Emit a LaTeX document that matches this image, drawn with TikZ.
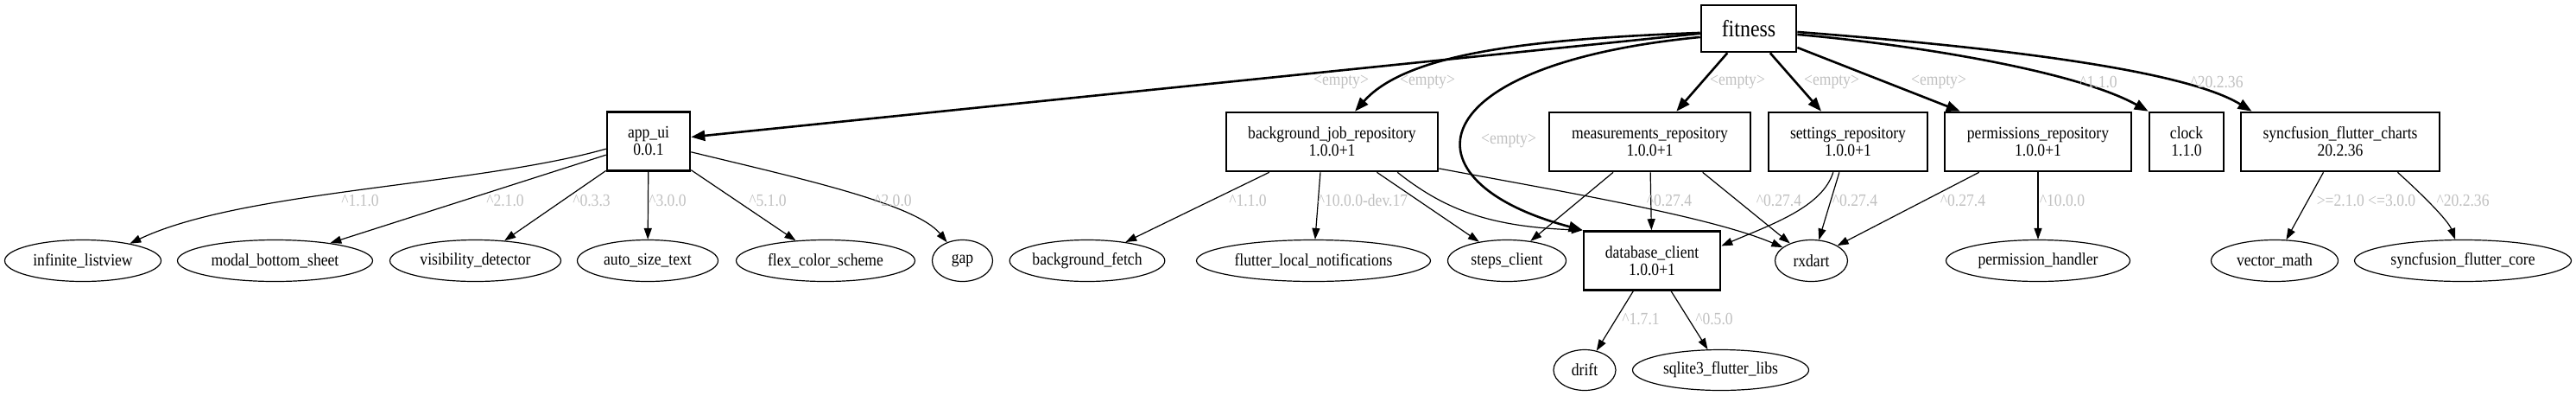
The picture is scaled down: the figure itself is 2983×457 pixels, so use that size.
\documentclass[tikz,border=0pt]{standalone}
\usepackage{fontspec}
\setmainfont{Liberation Serif}[FakeStretch=0.88]
\usetikzlibrary{arrows.meta,shapes.geometric}
\definecolor{labelgray}{RGB}{192,192,192}
\begin{document}
\begin{tikzpicture}
[x=0.5pt, y=-0.5pt,
 pkgnode/.style={rectangle, draw=black, line width=1.3pt, align=center, inner sep=0pt, minimum height=34pt, font=\fontsize{10}{10}\selectfont},
 depnode/.style={ellipse, draw=black, line width=0.6pt, inner sep=0pt, minimum height=24pt, font=\fontsize{10}{10}\selectfont},
 verlabel/.style={text=labelgray, inner sep=0pt, font=\fontsize{10}{10}\selectfont},
 mainedge/.style={-{Triangle[length=8pt,width=6pt]}, line width=1.3pt},
 depedge/.style={-{Triangle[length=6.5pt,width=4.5pt]}, line width=0.6pt}]
\useasboundingbox (0,0) rectangle (2983,457);
\node[pkgnode, minimum width=55pt, minimum height=27pt, font=\fontsize{13.6}{14}\selectfont]	(fitness) at (2025,33)	{fitness};
\node[pkgnode, minimum width=48pt]	(appui) at (751,163.5)	{app\_ui\\0.0.1};
\node[pkgnode, minimum width=122.5pt]	(bgjob) at (1542.5,164)	{background\_job\_repository\\1.0.0+1};
\node[pkgnode, minimum width=116.5pt]	(measrepo) at (1910.5,164)	{measurements\_repository\\1.0.0+1};
\node[pkgnode, minimum width=92pt]	(setrepo) at (2140,164)	{settings\_repository\\1.0.0+1};
\node[pkgnode, minimum width=108pt]	(permrepo) at (2360,164)	{permissions\_repository\\1.0.0+1};
\node[pkgnode, minimum width=43pt]	(clock) at (2532,164)	{clock\\1.1.0};
\node[pkgnode, minimum width=115pt]	(charts) at (2710,164)	{syncfusion\_flutter\_charts\\20.2.36};
\node[pkgnode, minimum width=79pt]	(dbclient) at (1913,301.5)	{database\_client\\1.0.0+1};
\node[depnode, minimum width=90.5pt]	(inflist) at (96,301.5)	{infinite\_listview};
\node[depnode, minimum width=113pt]	(modal) at (318.5,301.5)	{modal\_bottom\_sheet};
\node[depnode, minimum width=99pt]	(visdet) at (550.5,301.5)	{visibility\_detector};
\node[depnode, minimum width=81.5pt]	(autosize) at (750,301.5)	{auto\_size\_text};
\node[depnode, minimum width=103.5pt]	(flexcolor) at (956,301.5)	{flex\_color\_scheme};
\node[depnode, minimum width=35pt]	(gap) at (1114.5,301.5)	{gap};
\node[depnode, minimum width=89.5pt]	(bgfetch) at (1259,301.5)	{background\_fetch};
\node[depnode, minimum width=135.5pt]	(localnotif) at (1521,301.5)	{flutter\_local\_notifications};
\node[depnode, minimum width=68.5pt]	(steps) at (1745,301.5)	{steps\_client};
\node[depnode, minimum width=42pt]	(rxdart) at (2097.5,301.5)	{rxdart};
\node[depnode, minimum width=106.5pt]	(permhandler) at (2360,301.5)	{permission\_handler};
\node[depnode, minimum width=73.5pt]	(vecmath) at (2634,301.5)	{vector\_math};
\node[depnode, minimum width=125.5pt]	(sfcore) at (2852,301.5)	{syncfusion\_flutter\_core};
\node[depnode, minimum width=36pt, minimum height=23.5pt]	(drift) at (1835,428)	{drift};
\node[depnode, minimum width=102pt, minimum height=23.5pt]	(sqlite) at (1992.5,428)	{sqlite3\_flutter\_libs};
\draw[mainedge] (fitness) -- (appui) node[verlabel] (lappui) at (1553,95) {<empty>};
\draw[mainedge] (fitness.185) .. controls (1780,45) and (1630,60) .. (bgjob.53) node[verlabel] (lbgjob) at (1653,95) {<empty>};
\draw[mainedge] (fitness.190) .. controls (1640,75) and (1620,210) .. (dbclient.north west) node[verlabel] (ldbfit) at (1747,163) {<empty>};
\draw[mainedge] (fitness) -- (measrepo) node[verlabel] (lmeas) at (2012,95) {<empty>};
\draw[mainedge] (fitness) -- (setrepo) node[verlabel] (lset) at (2121,95) {<empty>};
\draw[mainedge] (fitness) -- (permrepo) node[verlabel] (lperm) at (2245,95) {<empty>};
\draw[mainedge] (fitness.-7) .. controls (2200,50) and (2400,80) .. (clock.north west) node[verlabel] (lclock) at (2430,95) {\textasciicircum1.1.0};
\draw[mainedge] (fitness.-4) .. controls (2250,50) and (2520,75) .. (charts.161) node[verlabel] (lcharts) at (2567,95) {\textasciicircum20.2.36};
\draw[depedge] (appui.190) .. controls (550,215) and (280,220) .. (inflist.20) node[verlabel] (linf) at (417,232) {\textasciicircum1.1.0};
\draw[depedge] (appui) -- (modal) node[verlabel] (lmodal) at (585,232) {\textasciicircum2.1.0};
\draw[depedge] (appui) -- (visdet) node[verlabel] (lvis) at (685,232) {\textasciicircum0.3.3};
\draw[depedge] (appui) -- (autosize) node[verlabel] (lauto) at (773,232) {\textasciicircum3.0.0};
\draw[depedge] (appui) -- (flexcolor) node[verlabel] (lflex) at (889,232) {\textasciicircum5.1.0};
\draw[depedge] (appui.-14) .. controls (920,205) and (1060,235) .. (gap.130) node[verlabel] (lgap) at (1034,232) {\textasciicircum2.0.0};
\draw[depedge] (bgjob) -- (bgfetch) node[verlabel] (lfetch) at (1445,232) {\textasciicircum1.1.0};
\draw[depedge] (bgjob.249) -- (localnotif) node[verlabel] (lnotif) at (1578,232) {\textasciicircum10.0.0-dev.17};
\draw[depedge] (bgjob) -- (steps);
\draw[depedge] (bgjob.-25) .. controls (1670,240) and (1720,262) .. (dbclient.north west);
\draw[depedge] (bgjob.-14) .. controls (1800,220) and (1980,250) .. (rxdart.155);
\draw[depedge] (measrepo) -- (steps);
\draw[depedge] (measrepo) -- (dbclient) node[verlabel] (lmeasdb) at (1933,232) {\textasciicircum0.27.4};
\draw[depedge] (measrepo.-30) -- (rxdart) node[verlabel] (lmeasrx) at (2060,232) {\textasciicircum0.27.4};
\draw[depedge] (setrepo.244) .. controls (2110,240) and (2050,260) .. (dbclient.12);
\draw[depedge] (setrepo.-106) -- (rxdart.70) node[verlabel] (lsetrx) at (2148,232) {\textasciicircum0.27.4};
\draw[depedge] (permrepo) -- (rxdart.30) node[verlabel] (lpermrx) at (2273,232) {\textasciicircum0.27.4};
\draw[depedge] (permrepo) -- (permhandler) node[verlabel] (lhandler) at (2388,232) {\textasciicircum10.0.0};
\draw[depedge] (charts) -- (vecmath) node[verlabel] (lvec) at (2740,232) {>=2.1.0 <=3.0.0};
\draw[depedge] (charts.-28) .. controls (2805,225) and (2835,255) .. (sfcore.110) node[verlabel] (lcore) at (2852,232) {\textasciicircum20.2.36};
\draw[depedge] (dbclient) -- (drift) node[verlabel] (ldrift) at (1900,369) {\textasciicircum1.7.1};
\draw[depedge] (dbclient) -- (sqlite) node[verlabel] (lsqlite) at (1985,369) {\textasciicircum0.5.0};
\end{tikzpicture}
\end{document}
